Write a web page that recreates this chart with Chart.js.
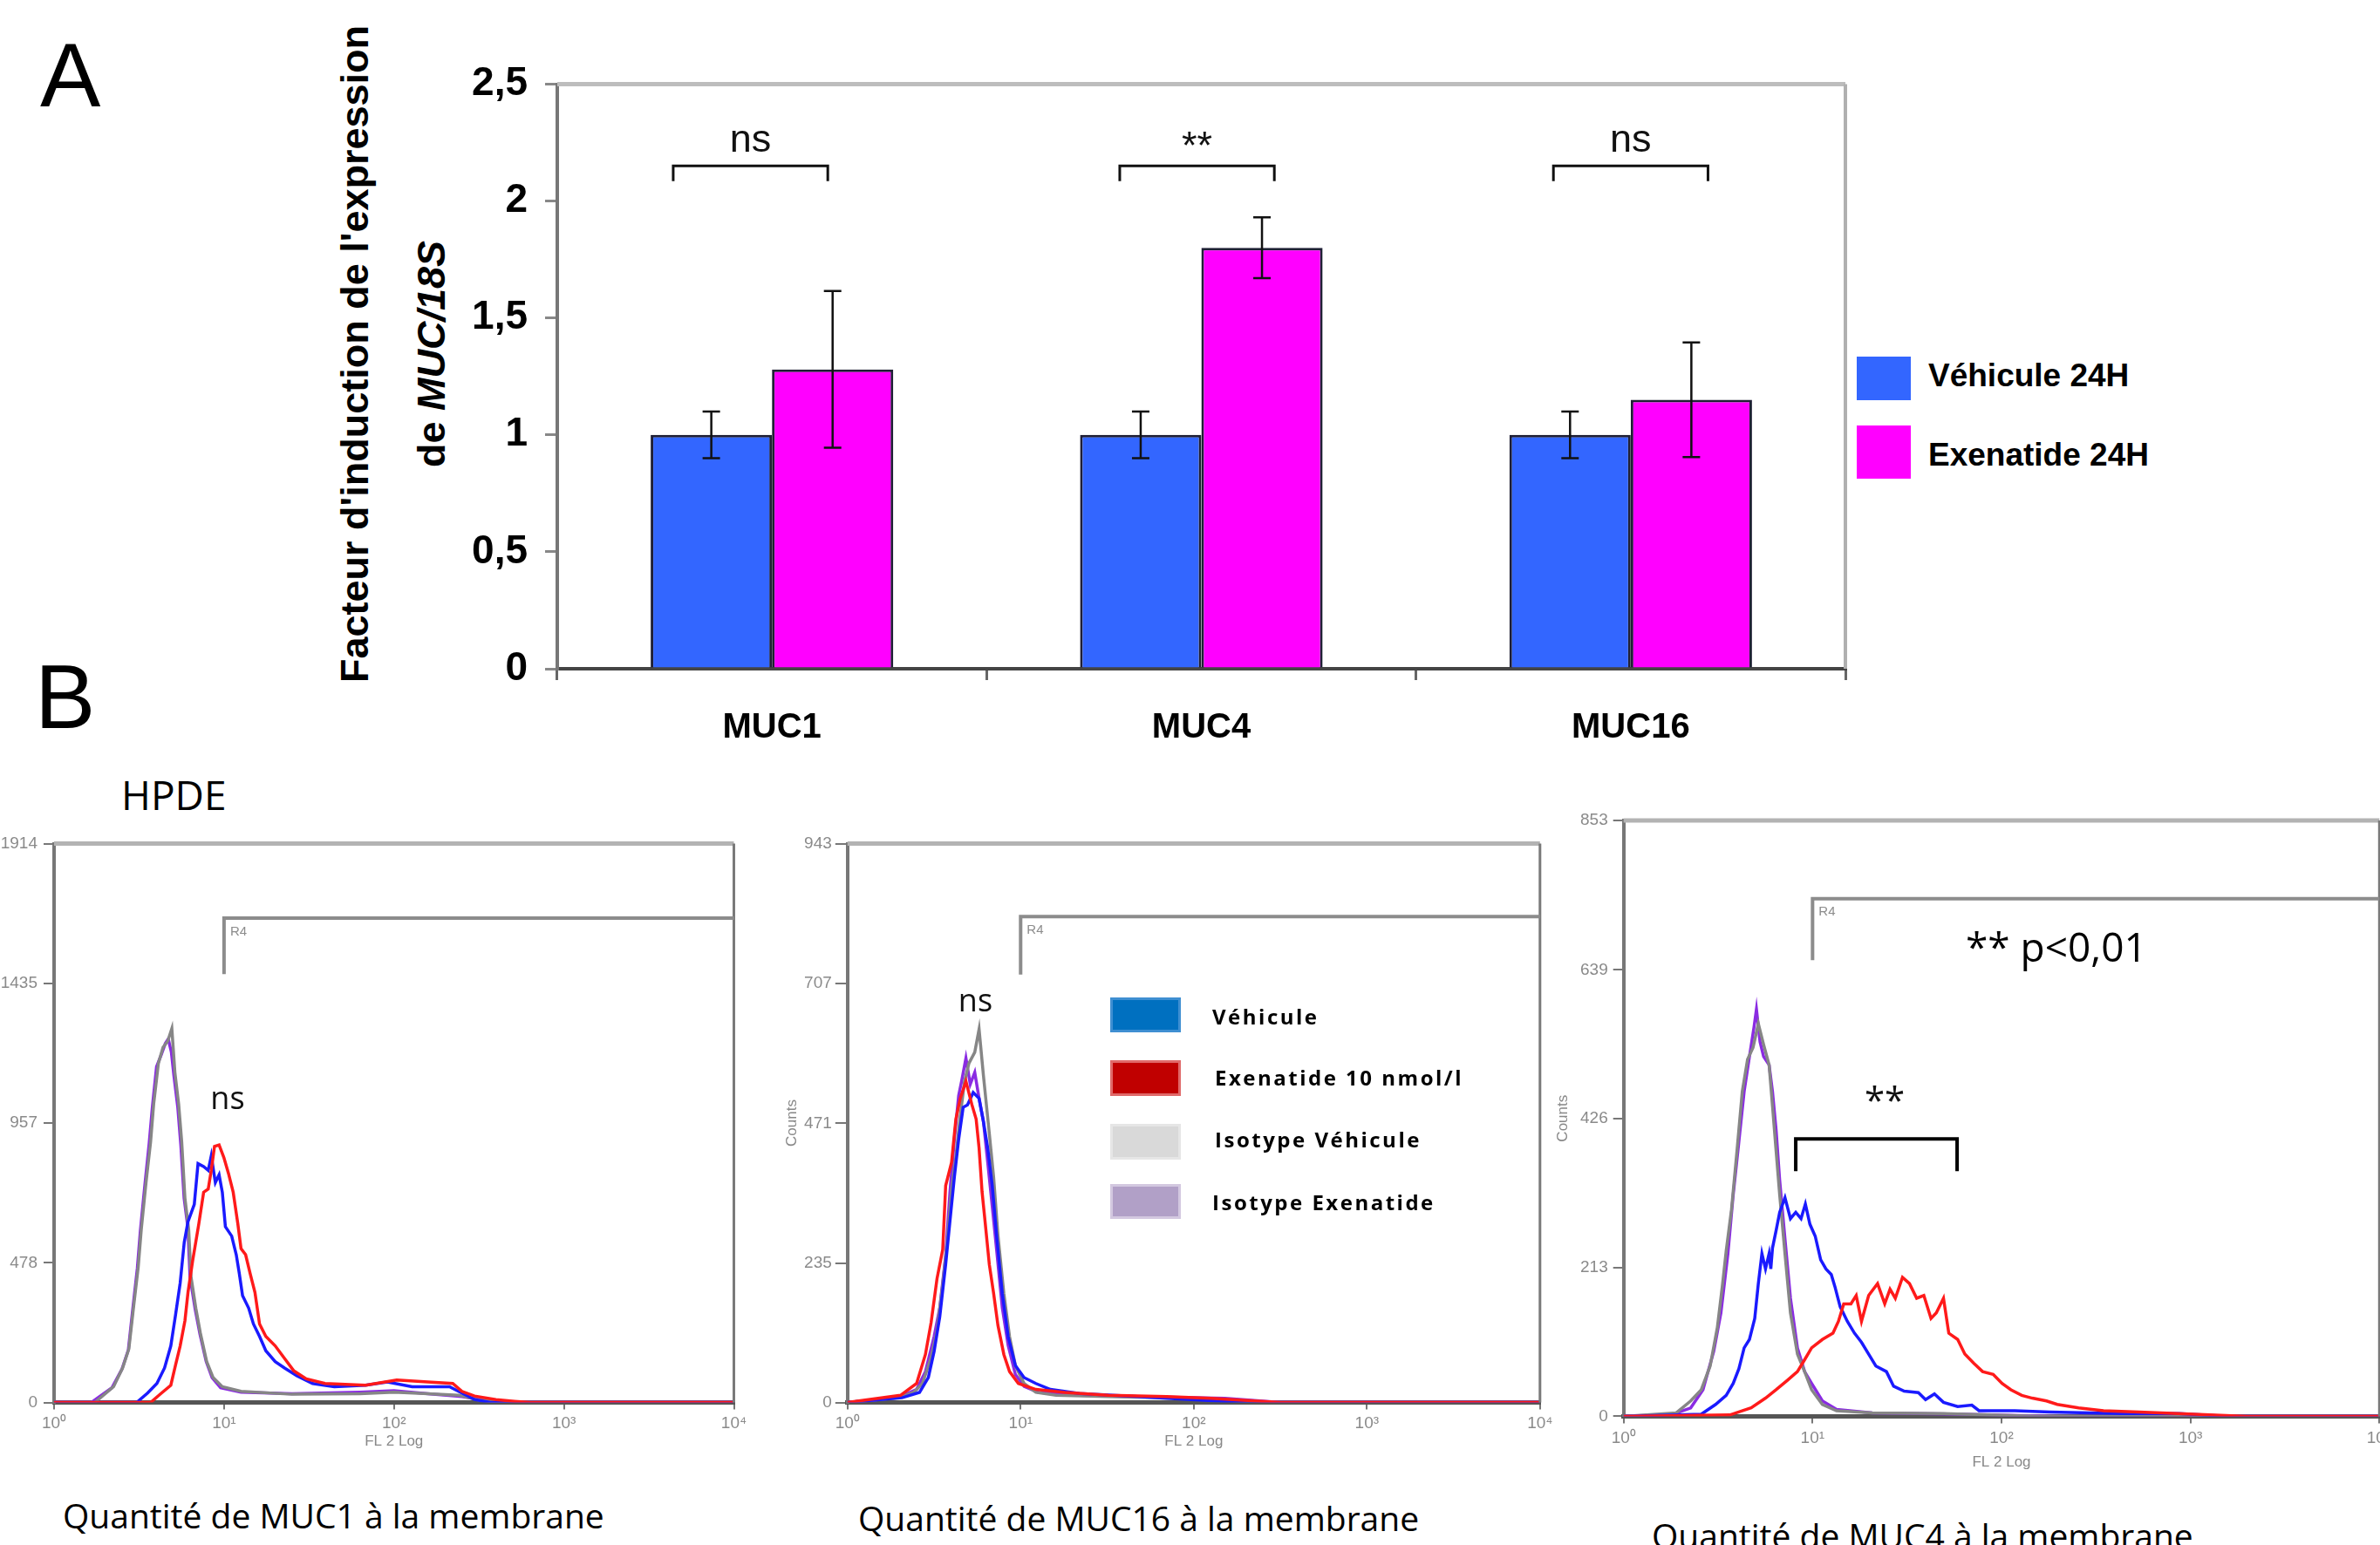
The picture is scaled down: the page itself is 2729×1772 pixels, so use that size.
<!DOCTYPE html>
<html>
<head>
<meta charset="utf-8">
<script src="https://cdn.jsdelivr.net/npm/chart.js@4.4.0/dist/chart.umd.min.js"></script>
<style>
  html, body { margin: 0; padding: 0; width: 2729px; height: 1772px; overflow: hidden; background: #fff; }
  body { position: relative; font-family: "Liberation Sans", Arial, sans-serif; }
  canvas, .t, .box { position: absolute; }
  .t { white-space: nowrap; line-height: 1; color: #000; }
  .os { font-family: "Open Sans", "Liberation Sans", sans-serif; }
  .rot { transform: translate(-50%, -50%) rotate(-90deg); font-weight: bold; font-size: 45px; }
  .lg { font-family: "Open Sans", sans-serif; font-weight: bold; font-size: 24px; letter-spacing: 2.5px; }
</style>
</head>
<body>

<div class="t" style="left:46px;top:34px;font-size:104px">A</div>
<div class="t" style="left:40px;top:747px;font-size:104px">B</div>

<div class="t rot" style="left:406px;top:406px">Facteur d'induction de l'expression</div>
<div class="t rot" style="left:494px;top:406px">de <i>MUC/18S</i></div>

<canvas id="barA" width="1640" height="880" style="left:500px;top:0px"></canvas>

<div class="box" style="left:2129px;top:409px;width:62px;height:50px;background:#3366ff"></div>
<div class="box" style="left:2129px;top:488px;width:62px;height:61px;background:#ff00ff"></div>
<div class="t" style="left:2211px;top:412px;font-size:37px;font-weight:bold">Véhicule 24H</div>
<div class="t" style="left:2211px;top:503px;font-size:37px;font-weight:bold">Exenatide 24H</div>

<div class="t os" style="left:139px;top:888px;font-size:46px">HPDE</div>

<canvas id="h1" width="880" height="760" style="left:0px;top:930px"></canvas>
<canvas id="h2" width="920" height="760" style="left:880px;top:930px"></canvas>
<canvas id="h3" width="1040" height="800" style="left:1760px;top:900px"></canvas>

<div class="box" style="left:1273px;top:1144px;width:75px;height:34px;background:#0070c0;border:3px solid #3f8fd2"></div>
<div class="box" style="left:1273px;top:1216px;width:75px;height:35px;background:#c00000;border:3px solid #e06a6a"></div>
<div class="box" style="left:1273px;top:1289px;width:75px;height:35px;background:#d9d9d9;border:3px solid #e6e6e6"></div>
<div class="box" style="left:1273px;top:1358px;width:75px;height:34px;background:#b1a0c7;border:3px solid #d3c8e0"></div>
<div class="t lg" style="left:1390px;top:1154px">Véhicule</div>
<div class="t lg" style="left:1393px;top:1224px">Exenatide 10 nmol/l</div>
<div class="t lg" style="left:1393px;top:1295px">Isotype Véhicule</div>
<div class="t lg" style="left:1390px;top:1367px">Isotype Exenatide</div>

<div class="t os" style="left:2254px;top:1062px;font-size:46px">** p&lt;0,01</div>

<div class="t os" style="left:72px;top:1718px;font-size:39px">Quantité de MUC1 à la membrane</div>
<div class="t os" style="left:984px;top:1721px;font-size:39px">Quantité de MUC16 à la membrane</div>
<div class="t os" style="left:1894px;top:1741px;font-size:39px">Quantité de MUC4 à la membrane</div>

<script>
Chart.defaults.font.family = '"Liberation Sans", Arial, sans-serif';

// ---- panel A : qPCR fold induction
const genes = ['MUC1', 'MUC4', 'MUC16'];
const vehicule = [1, 1, 1];
const vehiculeErr = [0.1, 0.1, 0.1];
const exenatide = [1.28, 1.8, 1.15];
const exenatideErr = [0.335, 0.13, 0.245];
const yTicksA = [0, 0.5, 1, 1.5, 2, 2.5];
const yLabelsA = ['0', '0,5', '1', '1,5', '2', '2,5'];
const signifA = ['ns', '**', 'ns'];

// ---- panel B : flow cytometry histograms, points are [log10 FL2, counts]
const decades = [0, 1, 2, 3, 4];
const decadeLabels = ['10⁰', '10¹', '10²', '10³', '10⁴'];

const muc1Iso = [[0,0],[0.24,0],[0.35,54],[0.403,118],[0.44,183],[0.467,323],[0.495,463],[0.513,592],[0.541,753],[0.568,893],[0.586,1022],[0.614,1162],[0.641,1216],[0.669,1238],[0.693,1281],[0.711,1130],[0.733,1022],[0.751,893],[0.77,700],[0.792,592],[0.806,430],[0.834,323],[0.861,237],[0.898,140],[0.935,86],[0.99,54],[1.1,38],[1.4,28],[1.8,30],[2.0,35],[2.2,30],[2.38,25],[2.5,8],[2.65,0],[4,0]];
const muc1IsoExe = [[0,0],[0.22,0],[0.34,50],[0.4,115],[0.437,180],[0.463,320],[0.49,460],[0.508,590],[0.535,750],[0.56,890],[0.578,1010],[0.603,1150],[0.63,1190],[0.655,1230],[0.672,1245],[0.69,1200],[0.705,1120],[0.728,1010],[0.746,880],[0.765,700],[0.787,600],[0.8,430],[0.83,320],[0.858,235],[0.895,140],[0.93,85],[0.98,50],[1.1,35],[1.4,30],[1.8,35],[2.0,40],[2.2,30],[2.4,20],[2.55,5],[2.7,0],[4,0]];
const muc1Veh = [[0,0],[0.486,0],[0.55,32],[0.605,65],[0.65,118],[0.687,194],[0.715,301],[0.742,409],[0.766,549],[0.788,619],[0.825,678],[0.847,818],[0.88,808],[0.907,795],[0.925,845],[0.949,753],[0.971,780],[0.99,720],[1.008,602],[1.045,570],[1.072,506],[1.09,441],[1.109,366],[1.145,323],[1.173,269],[1.209,226],[1.246,177],[1.301,140],[1.356,118],[1.429,91],[1.521,65],[1.649,54],[1.833,59],[1.961,70],[2.107,54],[2.327,54],[2.4,32],[2.474,10],[2.566,0],[4,0]];
const muc1Exe = [[0,0],[0.568,0],[0.632,32],[0.687,59],[0.715,129],[0.742,194],[0.77,280],[0.788,377],[0.815,484],[0.852,613],[0.88,720],[0.907,731],[0.925,795],[0.944,877],[0.971,882],[0.999,839],[1.026,785],[1.054,720],[1.081,613],[1.1,527],[1.127,506],[1.154,441],[1.182,377],[1.209,269],[1.246,226],[1.301,194],[1.356,151],[1.411,108],[1.484,81],[1.594,65],[1.833,59],[2.016,77],[2.199,70],[2.346,65],[2.4,38],[2.474,22],[2.6,10],[2.71,4],[2.8,0],[4,0]];

const muc16Iso = [[0,0],[0.298,8],[0.382,17],[0.433,32],[0.483,76],[0.516,120],[0.55,199],[0.575,268],[0.6,356],[0.626,415],[0.651,483],[0.676,542],[0.701,572],[0.735,591],[0.76,630],[0.785,552],[0.819,454],[0.844,380],[0.869,282],[0.903,184],[0.936,111],[0.97,62],[1.02,32],[1.088,17],[1.205,12],[1.507,10],[2.01,7],[2.4,0],[4,0]];
const muc16IsoExe = [[0,0],[0.29,8],[0.399,22],[0.45,52],[0.5,111],[0.533,160],[0.567,248],[0.592,356],[0.617,444],[0.642,518],[0.659,542],[0.684,581],[0.709,537],[0.735,557],[0.76,513],[0.785,474],[0.81,405],[0.836,331],[0.861,258],[0.894,160],[0.928,96],[0.97,47],[1.02,27],[1.104,17],[1.339,12],[1.675,10],[2.18,7],[2.5,0],[4,0]];
const muc16Veh = [[0,0],[0.315,8],[0.416,17],[0.467,42],[0.5,86],[0.533,145],[0.567,233],[0.592,307],[0.617,380],[0.642,444],[0.668,498],[0.693,502],[0.726,523],[0.76,513],[0.785,474],[0.81,429],[0.836,366],[0.861,282],[0.894,184],[0.928,111],[0.97,62],[1.02,42],[1.088,32],[1.172,22],[1.34,15],[1.675,10],[1.843,7],[2.3,0],[4,0]];
const muc16Exe = [[0,0],[0.306,12],[0.399,32],[0.45,81],[0.483,135],[0.517,209],[0.55,258],[0.567,366],[0.601,405],[0.626,478],[0.651,513],[0.684,542],[0.718,503],[0.743,478],[0.76,429],[0.777,356],[0.794,307],[0.819,233],[0.844,184],[0.869,130],[0.903,81],[0.936,52],[0.987,32],[1.088,22],[1.255,17],[1.507,12],[1.843,10],[2.1,7],[2.5,0],[4,0]];

const muc4Iso = [[0,0],[0.279,5],[0.355,22],[0.411,38],[0.458,72],[0.496,127],[0.524,190],[0.543,237],[0.571,296],[0.6,380],[0.628,465],[0.656,511],[0.685,528],[0.713,562],[0.741,532],[0.77,503],[0.788,444],[0.807,380],[0.826,317],[0.854,233],[0.883,148],[0.92,89],[0.958,64],[0.995,38],[1.052,17],[1.127,8],[1.316,5],[1.693,4],[2.2,0],[4,0]];
const muc4IsoExe = [[0,0],[0.26,3],[0.355,12],[0.42,38],[0.477,93],[0.515,148],[0.552,233],[0.58,317],[0.61,393],[0.638,465],[0.666,515],[0.69,557],[0.703,583],[0.722,536],[0.741,515],[0.77,503],[0.788,465],[0.807,410],[0.826,338],[0.854,254],[0.883,169],[0.92,98],[0.958,64],[0.995,47],[1.052,22],[1.127,10],[1.316,5],[1.8,3],[2.3,0],[4,0]];
const muc4Veh = [[0,0],[0.411,3],[0.487,17],[0.543,30],[0.58,47],[0.61,68],[0.638,98],[0.666,110],[0.694,140],[0.713,190],[0.732,233],[0.751,211],[0.77,233],[0.779,211],[0.788,241],[0.807,266],[0.826,292],[0.854,313],[0.883,283],[0.911,292],[0.939,283],[0.962,304],[0.986,275],[1.014,258],[1.043,224],[1.071,211],[1.099,203],[1.118,186],[1.146,157],[1.184,136],[1.222,119],[1.259,106],[1.297,89],[1.335,72],[1.391,64],[1.429,43],[1.485,36],[1.56,34],[1.598,24],[1.645,32],[1.693,20],[1.768,14],[1.843,16],[1.881,8],[2.07,8],[2.258,6],[2.635,4],[2.94,4],[3.2,0],[4,0]];
const muc4Exe = [[0,0],[0.562,2],[0.675,12],[0.751,26],[0.807,38],[0.864,51],[0.92,64],[0.958,81],[0.995,98],[1.052,110],[1.108,119],[1.137,136],[1.165,161],[1.203,161],[1.231,173],[1.259,136],[1.297,173],[1.344,190],[1.382,161],[1.41,182],[1.438,169],[1.476,199],[1.513,190],[1.551,169],[1.589,173],[1.627,140],[1.655,148],[1.693,169],[1.721,119],[1.768,110],[1.806,89],[1.853,76],[1.9,64],[1.956,60],[2.003,47],[2.05,38],[2.107,30],[2.163,26],[2.238,22],[2.295,17],[2.408,12],[2.54,8],[2.728,6],[2.935,4],[3.3,0],[4,0]];

// ---------- panel A chart
const barDecor = {
  id: 'barDecor',
  afterDatasetsDraw(chart) {
    const ctx = chart.ctx, a = chart.chartArea, xs = chart.scales.x, ys = chart.scales.y;
    ctx.save();
    // error bars
    chart.data.datasets.forEach((ds, i) => {
      chart.getDatasetMeta(i).data.forEach((bar, j) => {
        const top = ys.getPixelForValue(ds.data[j] + ds.errors[j]);
        const bot = ys.getPixelForValue(ds.data[j] - ds.errors[j]);
        ctx.strokeStyle = '#111';
        ctx.lineWidth = 2.5;
        ctx.beginPath();
        ctx.moveTo(bar.x, top); ctx.lineTo(bar.x, bot);
        ctx.moveTo(bar.x - 10, top); ctx.lineTo(bar.x + 10, top);
        ctx.moveTo(bar.x - 10, bot); ctx.lineTo(bar.x + 10, bot);
        ctx.stroke();
      });
    });
    // significance brackets
    const span = [[-0.23, 0.13], [-0.19, 0.17], [-0.18, 0.18]];
    genes.forEach((g, j) => {
      const x1 = xs.getPixelForValue(j + span[j][0]);
      const x2 = xs.getPixelForValue(j + span[j][1]);
      const yt = ys.getPixelForValue(2.15), yb = ys.getPixelForValue(2.085);
      ctx.strokeStyle = '#111';
      ctx.lineWidth = 3;
      ctx.beginPath();
      ctx.moveTo(x1, yb); ctx.lineTo(x1, yt); ctx.lineTo(x2, yt); ctx.lineTo(x2, yb);
      ctx.stroke();
      ctx.fillStyle = '#111';
      ctx.font = '45px "Liberation Sans"';
      ctx.textAlign = 'center';
      ctx.textBaseline = 'alphabetic';
      ctx.fillText(signifA[j], (x1 + x2) / 2, ys.getPixelForValue(signifA[j] === '**' ? 2.18 : 2.21));
    });
    // plot frame (top / right)
    ctx.strokeStyle = '#bdbdbd';
    ctx.lineWidth = 5;
    ctx.beginPath(); ctx.moveTo(a.left, a.top); ctx.lineTo(a.right, a.top); ctx.stroke();
    ctx.strokeStyle = '#b0b0b0';
    ctx.lineWidth = 4;
    ctx.beginPath(); ctx.moveTo(a.right, a.top); ctx.lineTo(a.right, a.bottom); ctx.stroke();
    ctx.restore();
  }
};

new Chart(document.getElementById('barA'), {
  type: 'bar',
  data: {
    labels: genes,
    datasets: [
      { label: 'Véhicule 24H', data: vehicule, errors: vehiculeErr, backgroundColor: '#3366ff' },
      { label: 'Exenatide 24H', data: exenatide, errors: exenatideErr, backgroundColor: '#ff00ff' }
    ]
  },
  options: {
    responsive: false,
    animation: false,
    layout: { padding: { top: 96.5, right: 24, bottom: 0, left: 0 } },
    datasets: { bar: { categoryPercentage: 0.565, barPercentage: 1, borderWidth: 3, borderColor: '#1f1f35' } },
    plugins: { legend: { display: false }, tooltip: { enabled: false } },
    scales: {
      x: {
        afterFit: s => { s.height = 113; },
        ticks: { font: { size: 40, weight: 'bold' }, color: '#000', padding: 31 },
        grid: { drawOnChartArea: false, tickLength: 13, color: '#666', lineWidth: 3, offset: true },
        border: { color: '#444', width: 4 }
      },
      y: {
        min: 0, max: 2.5,
        afterFit: s => { s.width = 139; },
        afterBuildTicks: s => { s.ticks = yTicksA.map(v => ({ value: v })); },
        ticks: { callback: (v, i) => yLabelsA[i], font: { size: 46, weight: 'bold' }, color: '#000', padding: 20 },
        grid: { drawOnChartArea: false, tickLength: 14, color: '#888', lineWidth: 3 },
        border: { color: '#777', width: 4 }
      }
    }
  },
  plugins: [barDecor]
});

// ---------- panel B histograms
function histogram(id, c) {
  const pts = arr => arr.map(p => ({ x: p[0], y: p[1] }));
  const marks = {
    id: 'histMarks',
    afterDatasetsDraw(chart) {
      const ctx = chart.ctx, a = chart.chartArea, xs = chart.scales.x, ys = chart.scales.y;
      ctx.save();
      ctx.lineCap = 'butt';
      ctx.strokeStyle = '#b3b3b3';
      ctx.lineWidth = 5;
      ctx.beginPath(); ctx.moveTo(a.left, a.top); ctx.lineTo(a.right, a.top); ctx.stroke();
      ctx.strokeStyle = '#7a7a7a';
      ctx.lineWidth = 3;
      ctx.beginPath(); ctx.moveTo(a.right, a.top); ctx.lineTo(a.right, a.bottom); ctx.stroke();
      // R4 gate
      const gx = xs.getPixelForValue(c.gate[0]);
      const gt = ys.getPixelForValue(c.gate[1]), gb = ys.getPixelForValue(c.gate[2]);
      ctx.strokeStyle = '#8c8c8c';
      ctx.lineWidth = 4;
      ctx.beginPath(); ctx.moveTo(gx, gb); ctx.lineTo(gx, gt); ctx.lineTo(a.right, gt); ctx.stroke();
      ctx.fillStyle = '#8c8c8c';
      ctx.font = '15px "Liberation Sans"';
      ctx.textAlign = 'left';
      ctx.textBaseline = 'top';
      ctx.fillText('R4', gx + 7, gt + 8);
      // significance
      if (c.bracket) {
        const [b1, b2, bt, bb] = c.bracket;
        ctx.strokeStyle = '#000';
        ctx.lineWidth = 4;
        ctx.beginPath();
        ctx.moveTo(xs.getPixelForValue(b1), ys.getPixelForValue(bb));
        ctx.lineTo(xs.getPixelForValue(b1), ys.getPixelForValue(bt));
        ctx.lineTo(xs.getPixelForValue(b2), ys.getPixelForValue(bt));
        ctx.lineTo(xs.getPixelForValue(b2), ys.getPixelForValue(bb));
        ctx.stroke();
      }
      ctx.fillStyle = '#111';
      ctx.font = c.signif[3] + 'px "Open Sans"';
      ctx.textAlign = 'center';
      ctx.textBaseline = 'middle';
      ctx.fillText(c.signif[0], xs.getPixelForValue(c.signif[1]), ys.getPixelForValue(c.signif[2]));
      ctx.restore();
    }
  };
  const line = (label, data, color, order) => ({
    label, data: pts(data), borderColor: color, order,
    borderWidth: 3.5, pointRadius: 0, tension: 0, fill: false
  });
  return new Chart(document.getElementById(id), {
    type: 'line',
    data: {
      datasets: [
        line('Exenatide 10 nmol/l', c.exe, '#ff1a1a', 1),
        line('Véhicule', c.veh, '#1a1aff', 2),
        line('Isotype Véhicule', c.iso, '#868686', 3),
        line('Isotype Exenatide', c.isoExe, '#8a2be2', 4)
      ]
    },
    options: {
      responsive: false,
      animation: false,
      parsing: false,
      layout: { padding: { top: c.padTop, right: c.padRight, bottom: 0, left: 0 } },
      plugins: { legend: { display: false }, tooltip: { enabled: false } },
      scales: {
        x: {
          type: 'linear', min: 0, max: 4,
          afterFit: s => { s.height = c.xHeight; },
          afterBuildTicks: s => { s.ticks = decades.map(v => ({ value: v })); },
          ticks: { callback: (v, i) => decadeLabels[i], font: { size: 19 }, color: '#8a8a8a', padding: c.xPad, maxRotation: 0, autoSkip: false },
          grid: { drawOnChartArea: false, tickLength: 8, color: '#777', lineWidth: 2 },
          border: { color: '#555', width: 5 },
          title: { display: true, text: 'FL 2 Log', color: '#888', font: { size: 17 }, padding: { top: 0, bottom: c.titlePad } }
        },
        y: {
          min: 0, max: c.yTicks[c.yTicks.length - 1],
          afterFit: s => { s.width = c.yWidth; },
          afterBuildTicks: s => { s.ticks = c.yTicks.map(v => ({ value: v })); },
          ticks: { callback: v => String(v), font: { size: 19 }, color: '#8a8a8a', padding: c.yPad },
          grid: { drawOnChartArea: false, tickLength: c.yTick, color: '#777', lineWidth: 2 },
          border: { color: '#777', width: 4 },
          title: { display: c.counts > 0, text: 'Counts', color: '#888', font: { size: 17 }, padding: { top: c.counts, bottom: 0 } }
        }
      }
    },
    plugins: [marks]
  });
}

histogram('h1', {
  exe: muc1Exe, veh: muc1Veh, iso: muc1Iso, isoExe: muc1IsoExe,
  yTicks: [0, 478, 957, 1435, 1914],
  padTop: 37.6, padRight: 38.5, yWidth: 62, xHeight: 81.5, xPad: 5, titlePad: 26.8,
  yTick: 12, yPad: 7, counts: 0,
  gate: [1, 1659, 1467], signif: ['ns', 1.021, 1036, 36]
});
histogram('h2', {
  exe: muc16Exe, veh: muc16Veh, iso: muc16Iso, isoExe: muc16IsoExe,
  yTicks: [0, 235, 471, 707, 943],
  padTop: 37.6, padRight: 34.2, yWidth: 91.8, xHeight: 81.5, xPad: 5, titlePad: 26.8,
  yTick: 14, yPad: 4, counts: 18.5,
  gate: [1, 820, 722], signif: ['ns', 0.739, 675, 36]
});
histogram('h3', {
  exe: muc4Exe, veh: muc4Veh, iso: muc4Iso, isoExe: muc4IsoExe,
  yTicks: [0, 213, 426, 639, 853],
  padTop: 41, padRight: 71.7, yWidth: 101.7, xHeight: 75.6, xPad: 6, titlePad: 12.8,
  yTick: 12, yPad: 6, counts: 21.8,
  gate: [1, 741, 653], bracket: [0.911, 1.765, 397, 351], signif: ['**', 1.382, 448, 42]
});
</script>
</body>
</html>
